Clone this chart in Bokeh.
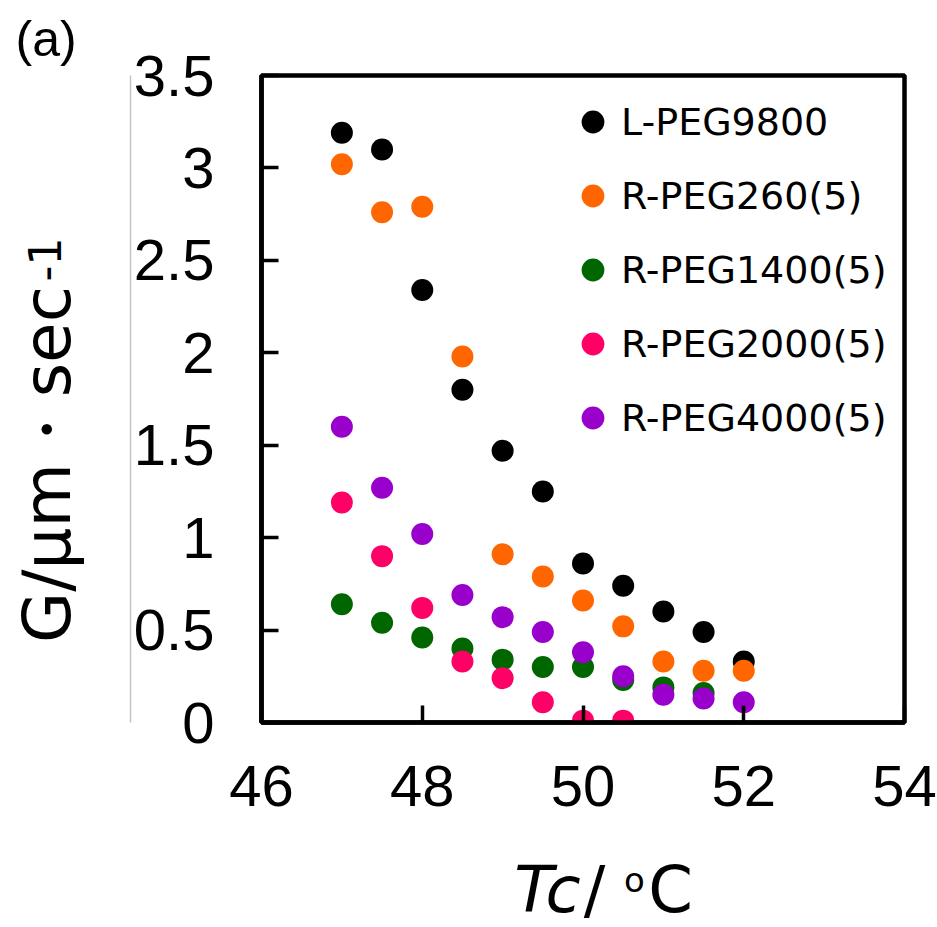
from bokeh.plotting import figure
from bokeh.models import Range1d, FixedTicker, LinearAxis, Legend, Title
from bokeh.embed import file_html
from bokeh.resources import INLINE

# ---- data ----
temps = [47.0, 47.5, 48.0, 48.5, 49.0, 49.5, 50.0, 50.5, 51.0, 51.5, 52.0]
l_peg9800 = [3.19, 3.10, 2.34, 1.80, 1.47, 1.25, 0.86, 0.74, 0.60, 0.49, 0.33]
r_peg260 = [3.02, 2.76, 2.79, 1.98, 0.91, 0.79, 0.66, 0.52, 0.33, 0.28, 0.28]
r_peg1400 = [0.64, 0.54, 0.46, 0.40, 0.34, 0.30, 0.30, 0.23, 0.19, 0.16]
r_peg2000 = [1.19, 0.90, 0.62, 0.33, 0.24, 0.11, 0.01, 0.01]
r_peg4000 = [1.60, 1.27, 1.02, 0.69, 0.57, 0.49, 0.38, 0.25, 0.15, 0.13, 0.11]

series_names = ["L-PEG9800", "R-PEG260(5)", "R-PEG1400(5)", "R-PEG2000(5)", "R-PEG4000(5)"]
series_values = [l_peg9800, r_peg260, r_peg1400, r_peg2000, r_peg4000]
series_colors = ["#000000", "#ff6600", "#006600", "#ff0066", "#9900cc"]

x_ticks = [46, 48, 50, 52, 54]
x_tick_labels = ["46", "48", "50", "52", "54"]
y_ticks = [0, 0.5, 1, 1.5, 2, 2.5, 3, 3.5]
y_tick_labels = ["0", "0.5", "1", "1.5", "2", "2.5", "3", "3.5"]

X0, X1, Y0, Y1 = 46, 54, 0, 3.5

# ---- figure ----
W, H = 937, 927
FL, FR, FT, FB = 261, 904, 75, 722  # frame edges (canvas px)


def xd(cx):
    return round(X0 + (cx - FL) * (X1 - X0) / (FR - FL), 4)


def yd(cy):
    return round(Y0 + (FB - cy) * (Y1 - Y0) / (FB - FT), 4)


p = figure(width=W, height=H, output_backend="svg", toolbar_location=None,
           x_range=Range1d(X0, X1), y_range=Range1d(Y0, Y1),
           min_border_left=FL, min_border_right=W - FR,
           min_border_top=FT, min_border_bottom=H - FB,
           background_fill_color="white", border_fill_color="white")

p.xgrid.visible = False
p.ygrid.visible = False
p.outline_line_color = "black"
p.outline_line_width = 4.5
p.outline_line_alpha = 1.0

for ax in (p.xaxis[0], p.yaxis[0]):
    ax.axis_line_width = 4.5
    ax.axis_line_color = "black"
    ax.major_tick_line_width = 3.5
    ax.major_tick_line_color = "black"
    ax.major_tick_in = 17
    ax.major_tick_out = 0
    ax.minor_tick_line_color = None
    ax.major_label_text_font = "Liberation Sans"
    ax.major_label_text_font_size = "58px"
    ax.major_label_text_color = "black"

p.xaxis[0].ticker = FixedTicker(ticks=x_ticks)
p.xaxis[0].major_label_overrides = {t: s for t, s in zip(x_ticks, x_tick_labels)}
p.xaxis[0].major_label_standoff = 43
p.yaxis[0].ticker = FixedTicker(ticks=y_ticks)
p.yaxis[0].major_label_overrides = {t: s for t, s in zip(y_ticks, y_tick_labels)}
p.yaxis[0].major_label_standoff = 47

renderers = []
for name, vals, col in zip(series_names, series_values, series_colors):
    r = p.scatter(temps[:len(vals)], vals, size=22, marker="circle",
                  fill_color=col, line_color=None)
    renderers.append((name, [r]))

legend = Legend(items=renderers, location=(592 - 28 - FL, FB - (121 - 28 + 5 * 57 + 4 * 17)),
                glyph_width=57, glyph_height=57, spacing=17, padding=0, margin=0,
                label_standoff=-7, label_text_font="DejaVu Sans",
                label_text_font_size="38px", label_text_color="black",
                border_line_color=None, background_fill_alpha=0)
p.add_layout(legend)

# panel tag (nearest to the frame in the top panel)
p.add_layout(Title(text="(a)", align="left", offset=15 - FL, standoff=15, vertical_align="middle",
                   text_font="Liberation Sans", text_font_size="50px",
                   text_font_style="normal", text_color="black"), "above")


def text_axis(side, centers, texts, size, standoff, style="normal", orientation="horizontal"):
    """A tick-less, line-less axis whose tick labels are used as title text."""
    ax = LinearAxis(ticker=FixedTicker(ticks=list(centers), minor_ticks=[]),
                    major_label_overrides=dict(zip(centers, texts)),
                    axis_line_color=None, major_tick_line_color=None, minor_tick_line_color=None,
                    major_tick_in=0, major_tick_out=0, major_label_standoff=int(round(standoff)),
                    major_label_text_font="DejaVu Sans", major_label_text_font_style=style,
                    major_label_text_font_size=f"{size}px", major_label_text_color="black",
                    major_label_orientation=orientation)
    p.add_layout(ax, side)
    return ax


# ---- x title  "Tc/oC" (top-panel axes, pulled down below the frame) ----
text_axis("above", [xd(547)], ["Tc"], 64, -924, style="italic")
text_axis("above", [xd(594), xd(670)], ["/", "C"], 64, -924)
text_axis("above", [xd(634)], ["o"], 34, -897)

# ---- gray rule left of the y tick labels ----
gray = LinearAxis(ticker=FixedTicker(ticks=[], minor_ticks=[]),
                  axis_line_color="#c4c4c4", axis_line_width=1.5,
                  major_tick_line_color=None, minor_tick_line_color=None)
p.add_layout(gray, "left")

# ---- y title  "G/μm・sec-1" ----
text_axis("left", [yd(464)], ["G/μm・sec"], 66, 44, orientation="vertical")
text_axis("left", [yd(259)], ["-1"], 44, -55, orientation="vertical")

open("out.html", "w").write(file_html(p, INLINE))
